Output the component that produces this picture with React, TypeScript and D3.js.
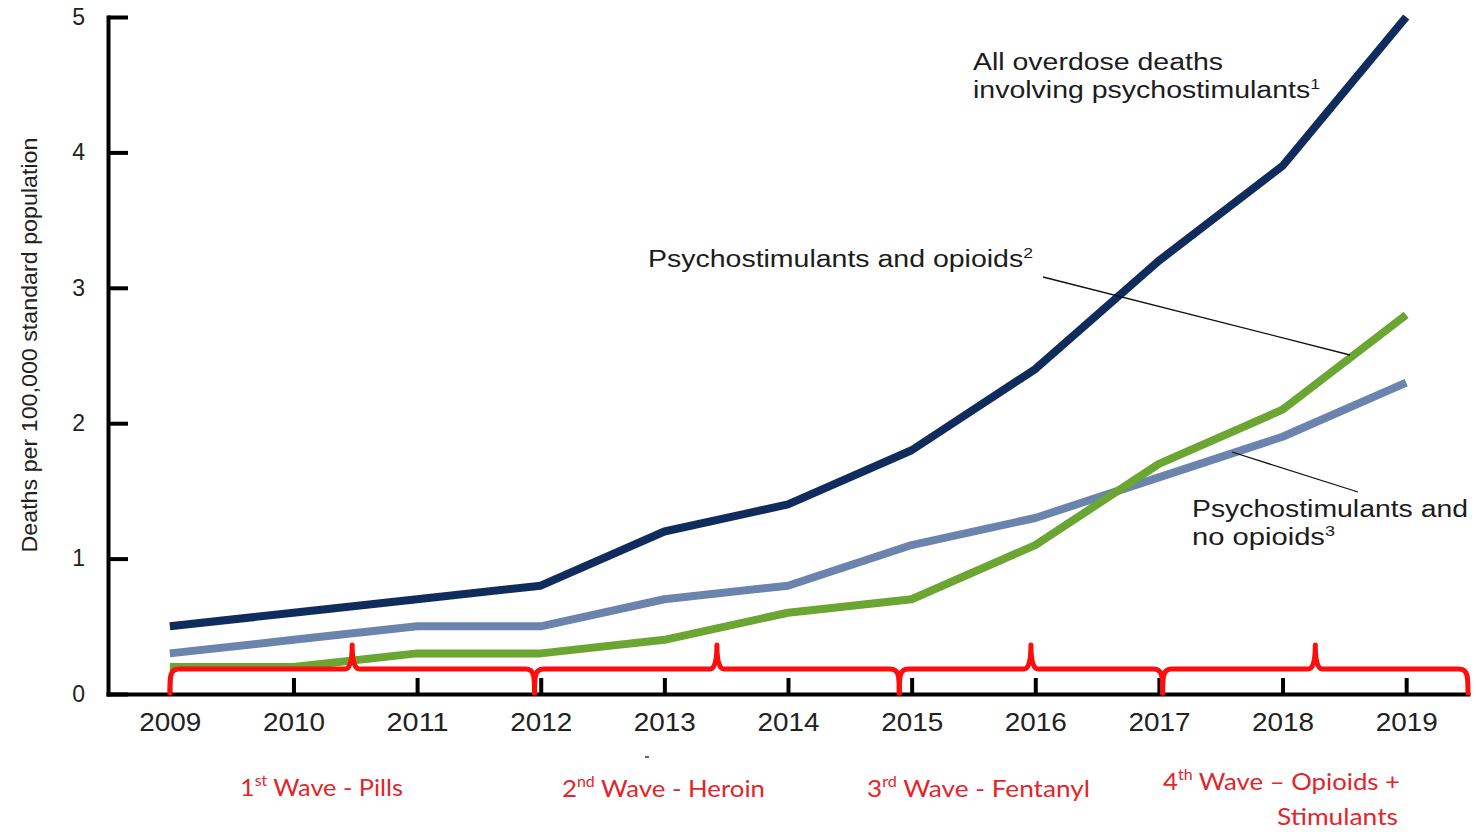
import { useEffect, useRef } from 'react';
import * as d3 from 'd3';

// data
const years = [2009, 2010, 2011, 2012, 2013, 2014, 2015, 2016, 2017, 2018, 2019];
const allPsychostimulants = [0.5, 0.6, 0.7, 0.8, 1.2, 1.4, 1.8, 2.4, 3.2, 3.9, 5.0];
const withOpioids = [0.2, 0.2, 0.3, 0.3, 0.4, 0.6, 0.7, 1.1, 1.7, 2.1, 2.8];
const noOpioids = [0.3, 0.4, 0.5, 0.5, 0.7, 0.8, 1.1, 1.3, 1.6, 1.9, 2.3];
const yTicks = [0, 1, 2, 3, 4, 5];

// opioid waves (braces under the lines)
const waveStart = [2009, 2011.95, 2014.9, 2017.03];
const waveEnd = [2011.95, 2014.9, 2017.03, 2019.5];
const waveNum = ['1', '2', '3', '4'];
const waveSup = ['st', 'nd', 'rd', 'th'];
const waveText = [' Wave - Pills', ' Wave - Heroin', ' Wave - Fentanyl', ' Wave \u2013 Opioids +'];
const waveText2 = ['', '', '', 'Stimulants'];

const [width, height] = [1476, 832];
const ARIAL = "'Liberation Sans', Arial, sans-serif";
const CALIBRI = "Lato, 'Open Sans', sans-serif";

const x = d3.scaleLinear().domain([2008.5, 2019.5]).range([108, 1468]);
const y = d3.scaleLinear().domain([0, 5]).range([694, 17]);

type Part = [string, boolean];

function label(svg: any, px: number, py: number, parts: Part[], len: number, size: number, color: string, family: string) {
    const t = svg.append('text')
        .attr('x', px).attr('y', py)
        .attr('font-family', family).attr('font-size', size)
        .attr('fill', color)
        .attr('textLength', len).attr('lengthAdjust', 'spacingAndGlyphs')
        .style('white-space', 'pre');
    let raised = false;
    parts.forEach(([s, sup]) => {
        const sp = t.append('tspan').text(s);
        if (sup && !raised) {
            sp.attr('dy', -size * 0.4).attr('font-size', size * 0.62);
            raised = true;
        } else if (!sup && raised) {
            sp.attr('dy', size * 0.4);
            raised = false;
        }
    });
}

function App() {
    const node = useRef<SVGSVGElement>(null);
    useEffect(() => {
        if (!node.current) return;
        const svg = d3.select(node.current);
        svg.selectAll('*').remove();

        /** y axis title */
        svg.append('text')
            .attr('transform', 'translate(37,345) rotate(-90)')
            .attr('text-anchor', 'middle')
            .attr('font-family', ARIAL).attr('font-size', 22).attr('fill', '#222')
            .attr('textLength', 415).attr('lengthAdjust', 'spacingAndGlyphs')
            .text('Deaths per 100,000 standard population');

        /** Axes */
        const gx = svg.append('g')
            .attr('transform', `translate(0,${y(0)})`)
            .call(d3.axisBottom(x).tickValues(years).tickFormat(d3.format('d'))
                .tickSizeInner(-16).tickSizeOuter(0).tickPadding(19));
        const gy = svg.append('g')
            .attr('transform', `translate(${x(2008.5)},0)`)
            .call(d3.axisLeft(y).tickValues(yTicks).tickFormat(d3.format('d'))
                .tickSizeInner(-20).tickSizeOuter(0).tickPadding(23));
        [gx, gy].forEach(g => {
            g.select('.domain').attr('stroke', '#000').attr('stroke-width', 4).attr('stroke-linecap', 'square');
            g.selectAll('.tick line').attr('stroke', '#000').attr('stroke-width', 4);
            g.selectAll('.tick text').attr('font-family', ARIAL).attr('fill', '#222');
        });
        gx.selectAll('.tick text').attr('font-size', 26)
            .attr('textLength', 62).attr('lengthAdjust', 'spacingAndGlyphs');
        gy.selectAll('.tick text').attr('font-size', 23);

        /** Lines */
        const series = [
            { values: noOpioids, color: '#6a84ae' },
            { values: withOpioids, color: '#6ba532' },
            { values: allPsychostimulants, color: '#102c5c' },
        ];
        const line = d3.line<number>().x((_, i) => x(years[i])).y(d => y(d));
        series.forEach(s => {
            svg.append('path')
                .attr('d', line(s.values))
                .attr('fill', 'none')
                .attr('stroke', s.color)
                .attr('stroke-width', 8)
                .attr('stroke-linejoin', 'round');
        });

        /** Wave braces */
        const [barY, peakY, bottomY] = [669, 645, 693];
        waveStart.forEach((w, i) => {
            const xa = x(w), xb = x(waveEnd[i]), xm = (xa + xb) / 2;
            const d = `M${xa},${bottomY} C${xa},${barY + 8} ${xa},${barY} ${xa + 9},${barY}`
                + ` L${xm - 7},${barY} Q${xm},${barY} ${xm},${peakY} Q${xm},${barY} ${xm + 7},${barY}`
                + ` L${xb - 9},${barY} C${xb},${barY} ${xb},${barY + 8} ${xb},${bottomY}`;
            svg.append('path').attr('d', d)
                .attr('fill', 'none').attr('stroke', '#ff0d0d')
                .attr('stroke-width', 5).attr('stroke-linejoin', 'round').attr('stroke-linecap', 'round');
        });

        /** Wave labels */
        const wavePos = [[240, 796, 163], [562, 797, 203], [867, 797, 223], [1163, 790, 237]];
        const red = '#e3242b';
        waveNum.forEach((n, i) => {
            const [px, py, len] = wavePos[i];
            label(svg, px, py, [[n, false], [waveSup[i], true], [waveText[i], false]], len, 24, red, CALIBRI);
            if (waveText2[i]) label(svg, 1277, 825, [[waveText2[i], false]], 121, 24, red, CALIBRI);
        });

        /** Series annotations */
        const ink = '#1c1c1c';
        label(svg, 973, 70, [['All overdose deaths', false]], 250, 23, ink, ARIAL);
        label(svg, 973, 98, [['involving psychostimulants', false], ['1', true]], 347, 23, ink, ARIAL);
        label(svg, 648, 267, [['Psychostimulants and opioids', false], ['2', true]], 385, 23, ink, ARIAL);
        label(svg, 1192, 517, [['Psychostimulants and', false]], 276, 23, ink, ARIAL);
        label(svg, 1192, 545, [['no opioids', false], ['3', true]], 143, 23, ink, ARIAL);

        /** Leader lines */
        svg.append('line').attr('x1', 1043).attr('y1', 277).attr('x2', 1350).attr('y2', 355)
            .attr('stroke', '#111').attr('stroke-width', 1.3);
        svg.append('line').attr('x1', 1232).attr('y1', 452).attr('x2', 1358).attr('y2', 492)
            .attr('stroke', '#111').attr('stroke-width', 1.3);

        /** stray mark under 2013 */
        svg.append('line').attr('x1', 645).attr('y1', 757).attr('x2', 649).attr('y2', 757)
            .attr('stroke', '#333').attr('stroke-width', 1.5);
    }, [node]);

    return (
        <svg ref={node} width={width} height={height}
            style={{ position: 'absolute', left: 0, top: 0, background: '#fff' }} />
    );
}

export default App;
